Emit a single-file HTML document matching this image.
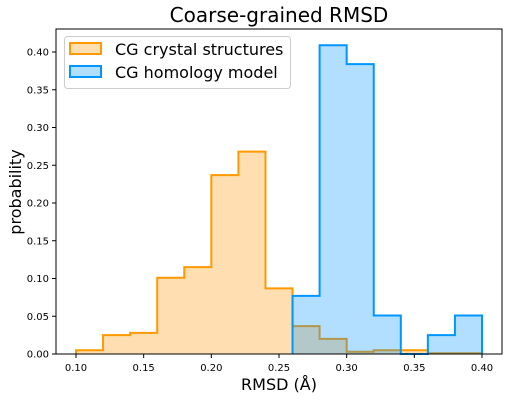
<!DOCTYPE html>
<html><head><meta charset="utf-8"><style>
body{margin:0;background:#fff;font-family:"Liberation Sans","DejaVu Sans",sans-serif}
svg text{font-family:"DejaVu Sans","Liberation Sans",sans-serif}
</style></head><body>
<svg id="c" width="509" height="400" xmlns="http://www.w3.org/2000/svg"></svg>
<script>
const orangeEdges=[0.10,0.12,0.14,0.16,0.18,0.20,0.22,0.24,0.26,0.28,0.30,0.32,0.34,0.36,0.38,0.40];
const orangeValues=[0.005,0.025,0.028,0.101,0.115,0.237,0.268,0.087,0.037,0.020,0.003,0.005,0.005,0.001,0.001];
const blueEdges=[0.26,0.28,0.30,0.32,0.34,0.36,0.38,0.40];
const blueValues=[0.077,0.409,0.384,0.051,0,0.025,0.051];
const xTicks=[0.10,0.15,0.20,0.25,0.30,0.35,0.40];
const yTicks=[0,0.05,0.10,0.15,0.20,0.25,0.30,0.35,0.40];
const L=56,R=502,T=29,B=354;
const x=v=>76+(v-0.10)*(482-76)/0.30;
const y=v=>354-v*(354-52)/0.40;
const svg=document.getElementById('c');
const NS='http://www.w3.org/2000/svg';
function mk(t,a,p){const e=document.createElementNS(NS,t);for(const k in a)e.setAttribute(k,a[k]);(p||svg).appendChild(e);return e;}
function stepPath(edges,vals){let d=`M${x(edges[0])},${y(0)}`;vals.forEach((v,i)=>{d+=` L${x(edges[i])},${y(v)} L${x(edges[i+1])},${y(v)}`;});d+=` L${x(edges[edges.length-1])},${y(0)}`;return d;}
let e;
e=mk('path',{d:stepPath(orangeEdges,orangeValues)+' Z',fill:'rgba(255,148,0,0.3)',stroke:'none'});

e=mk('path',{d:stepPath(orangeEdges,orangeValues),fill:'none',stroke:'#ff9900','stroke-width':2});

e=mk('path',{d:stepPath(blueEdges,blueValues)+' Z',fill:'rgba(0,148,255,0.3)',stroke:'none'});

e=mk('path',{d:stepPath(blueEdges,blueValues),fill:'none',stroke:'#0096ff','stroke-width':2});

e=mk('rect',{x:L,y:T,width:R-L,height:B-T,fill:'none',stroke:'#000','stroke-width':1});

xTicks.forEach(v=>{const X=x(v);
e=mk('line',{x1:X,x2:X,y1:B,y2:B+4,stroke:'#000'});
e=mk('text',{x:X,y:B+17,'font-size':10,'text-anchor':'middle'});e.textContent=v.toFixed(2);});
yTicks.forEach(v=>{const Y=y(v);
e=mk('line',{x1:L-4,x2:L,y1:Y,y2:Y,stroke:'#000'});
e=mk('text',{x:L-7,y:Y+3.5,'font-size':10,'text-anchor':'end'});e.textContent=v.toFixed(2);});
</script>
<svg width="509" height="400" style="position:absolute;left:0;top:0" xmlns="http://www.w3.org/2000/svg">
<text x="279" y="22" font-size="20" text-anchor="middle">Coarse-grained RMSD</text>
<text x="279" y="390" font-size="16" text-anchor="middle">RMSD (Å)</text>
<text x="21" y="192" font-size="16" text-anchor="middle" transform="rotate(-90 21 192)">probability</text>
<g>
<rect x="64.5" y="36.5" width="226" height="52" rx="3" fill="#fff" fill-opacity="0.8" stroke="#ccc"/>
<rect x="70" y="43" width="31" height="11" fill="#fedfb1" stroke="#ff9900" stroke-width="2"/>
<text x="115" y="55" font-size="16">CG crystal structures</text>
<rect x="70" y="66" width="31" height="11" fill="#b3dfff" stroke="#0096ff" stroke-width="2"/>
<text x="115" y="78" font-size="16">CG homology model</text>
</g>
</svg>
</body></html>
